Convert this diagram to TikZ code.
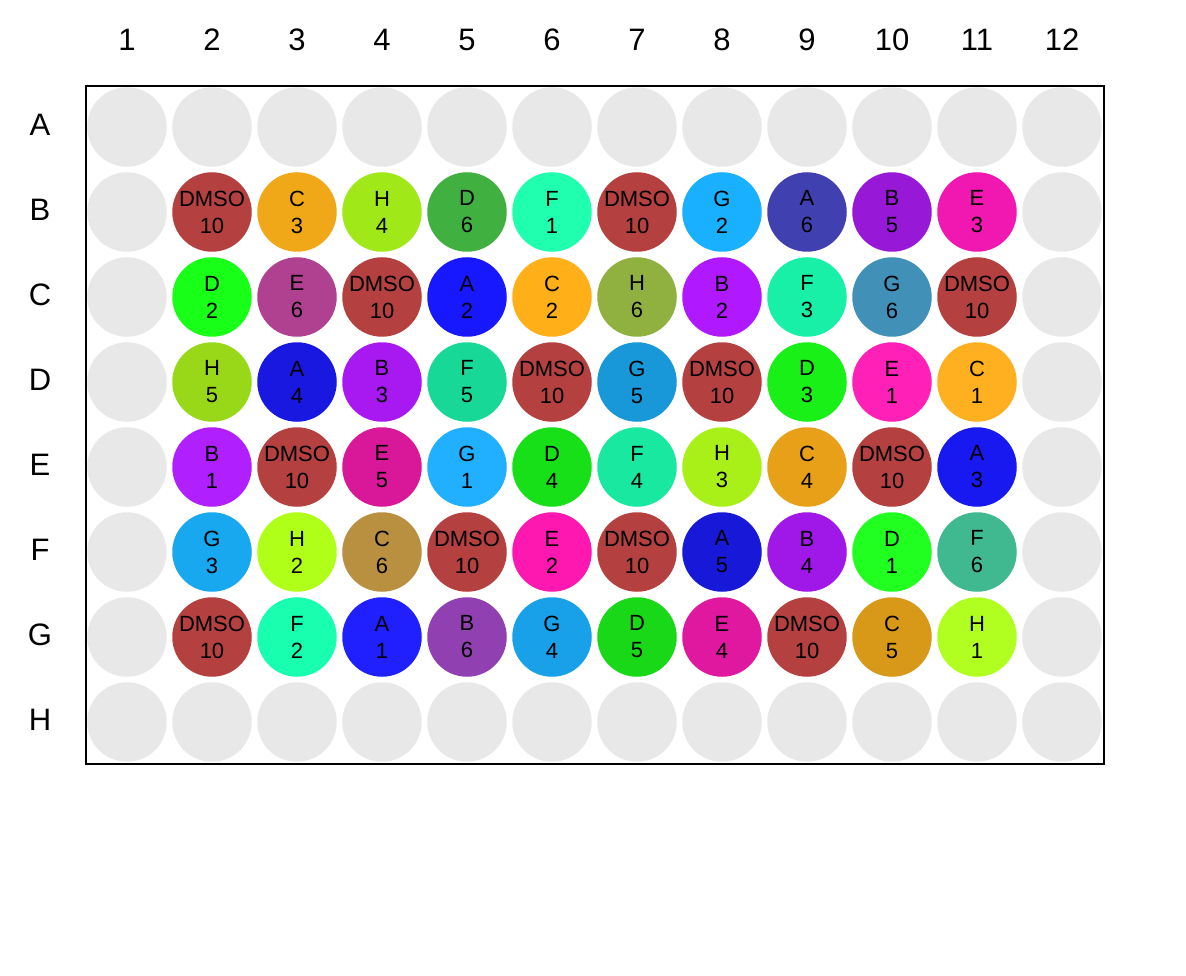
\documentclass[tikz,border=0pt]{standalone}
\usepackage{fontspec}
\setmainfont{Liberation Sans}
\definecolor{emptywell}{HTML}{E8E8E8}
\tikzset{
  well/.style={circle, minimum size=79.5pt, inner sep=0pt, align=center,
    font=\fontsize{22}{27}\selectfont, text=black},
  hdr/.style={font=\fontsize{31}{36}\selectfont, inner sep=0pt, text=black},
  plateframe/.style={draw=black, line width=2pt, inner sep=0pt}
}
\begin{document}
\begin{tikzpicture}[x=1pt,y=-1pt]
\useasboundingbox (0,0) rectangle (1186,976);
\fill[white] (0,0) rectangle (1186,976);
\node[plateframe, minimum width=1018pt, minimum height=678pt] (plate) at (595,425) {};
% column headers
\foreach \c in {1,...,12}
  \node[hdr] (col\c) at ({127+(\c-1)*85},40) {\c};
% row headers
\foreach \r/\ri in {A/0,B/1,C/2,D/3,E/4,F/5,G/6,H/7}
  \node[hdr] (row\r) at (40,{124.5+\ri*85}) {\r};
% empty wells
\foreach \r/\ri in {A/0,H/7}
  \foreach \c in {1,...,12}
    \node[well, fill=emptywell] (w\r\c) at ({127+(\c-1)*85},{127+\ri*85}) {};
\foreach \r/\ri in {B/1,C/2,D/3,E/4,F/5,G/6}
  \foreach \c in {1,12}
    \node[well, fill=emptywell] (w\r\c) at ({127+(\c-1)*85},{127+\ri*85}) {};
% filled wells
\foreach \r/\ri/\c/\t/\n/\h in {
  B/1/2/DMSO/10/B54040, B/1/3/C/3/F0A818, B/1/4/H/4/A0E818, B/1/5/D/6/40B040,
  B/1/6/F/1/20FFB0, B/1/7/DMSO/10/B54040, B/1/8/G/2/18B0FF, B/1/9/A/6/4040B0,
  B/1/10/B/5/9818D8, B/1/11/E/3/F018B0,
  C/2/2/D/2/18FF18, C/2/3/E/6/B04090, C/2/4/DMSO/10/B54040, C/2/5/A/2/1818FF,
  C/2/6/C/2/FFB018, C/2/7/H/6/90B040, C/2/8/B/2/B018FF, C/2/9/F/3/18F0A8,
  C/2/10/G/6/4090B8, C/2/11/DMSO/10/B54040,
  D/3/2/H/5/98D818, D/3/3/A/4/1818E0, D/3/4/B/3/A818F0, D/3/5/F/5/18D898,
  D/3/6/DMSO/10/B54040, D/3/7/G/5/1898D8, D/3/8/DMSO/10/B54040, D/3/9/D/3/18F018,
  D/3/10/E/1/FF20B8, D/3/11/C/1/FFB020,
  E/4/2/B/1/B020FF, E/4/3/DMSO/10/B54040, E/4/4/E/5/D81898, E/4/5/G/1/20B0FF,
  E/4/6/D/4/18E018, E/4/7/F/4/18E8A0, E/4/8/H/3/A8F018, E/4/9/C/4/E8A018,
  E/4/10/DMSO/10/B54040, E/4/11/A/3/1818F0,
  F/5/2/G/3/18A8F0, F/5/3/H/2/B0FF18, F/5/4/C/6/B89040, F/5/5/DMSO/10/B54040,
  F/5/6/E/2/FF18B0, F/5/7/DMSO/10/B54040, F/5/8/A/5/1818D8, F/5/9/B/4/A018E8,
  F/5/10/D/1/20FF20, F/5/11/F/6/40B890,
  G/6/2/DMSO/10/B54040, G/6/3/F/2/18FFB0, G/6/4/A/1/2020FF, G/6/5/B/6/9040B0,
  G/6/6/G/4/18A0E8, G/6/7/D/5/18D818, G/6/8/E/4/E018A0, G/6/9/DMSO/10/B54040,
  G/6/10/C/5/D89818, G/6/11/H/1/B0FF20}
{
  \definecolor{wellcol}{HTML}{\h}
  \node[well, fill=wellcol] (w\r\c) at ({127+(\c-1)*85},{127+\ri*85}) {\t\\\n};
}
\end{tikzpicture}
\end{document}
